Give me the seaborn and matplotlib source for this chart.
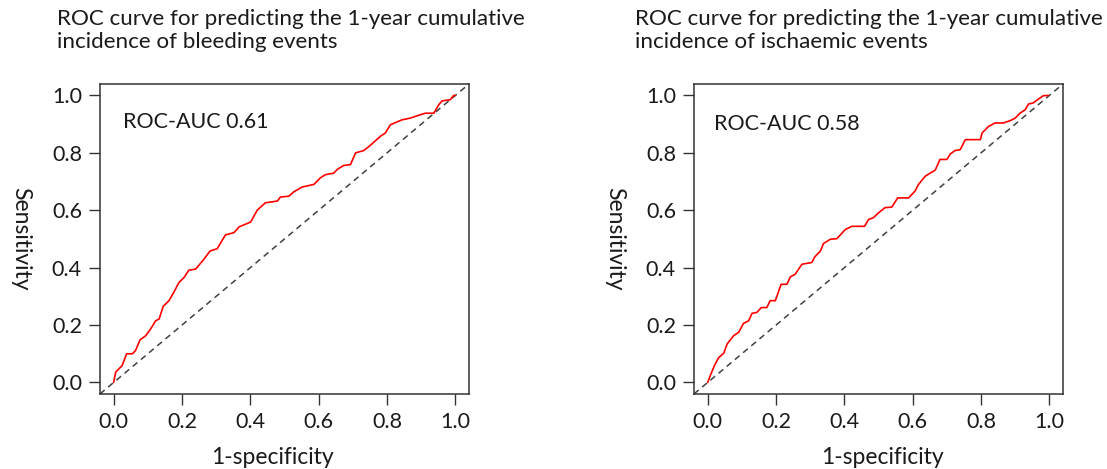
import seaborn as sns
import matplotlib.pyplot as plt
import pandas as pd

# ROC points (1-specificity, sensitivity)
bleed_fpr = [0.0, 0.006, 0.025, 0.038, 0.055, 0.064, 0.077, 0.094, 0.108, 0.123, 0.133, 0.145,
             0.162, 0.176, 0.191, 0.206, 0.220, 0.240, 0.264, 0.282, 0.303, 0.327, 0.352, 0.367,
             0.401, 0.420, 0.444, 0.479, 0.488, 0.513, 0.527, 0.552, 0.586, 0.605, 0.620, 0.644,
             0.654, 0.673, 0.693, 0.708, 0.732, 0.751, 0.781, 0.795, 0.810, 0.844, 0.868, 0.898,
             0.912, 0.937, 0.951, 0.961, 0.985, 0.995, 1.0]
bleed_tpr = [0.0, 0.036, 0.059, 0.100, 0.100, 0.111, 0.148, 0.163, 0.186, 0.215, 0.221, 0.265,
             0.285, 0.314, 0.348, 0.366, 0.391, 0.395, 0.429, 0.458, 0.466, 0.514, 0.522, 0.542,
             0.559, 0.600, 0.626, 0.632, 0.646, 0.649, 0.664, 0.681, 0.690, 0.713, 0.724, 0.729,
             0.742, 0.756, 0.759, 0.800, 0.808, 0.826, 0.858, 0.869, 0.898, 0.915, 0.921, 0.933,
             0.938, 0.938, 0.967, 0.981, 0.985, 1.0, 1.0]

isch_fpr = [0.0, 0.008, 0.020, 0.032, 0.047, 0.057, 0.076, 0.091, 0.105, 0.120, 0.130, 0.144,
            0.157, 0.173, 0.183, 0.198, 0.215, 0.232, 0.242, 0.256, 0.276, 0.305, 0.313, 0.330,
            0.339, 0.359, 0.378, 0.403, 0.422, 0.459, 0.471, 0.485, 0.500, 0.519, 0.539, 0.556,
            0.588, 0.607, 0.617, 0.637, 0.666, 0.680, 0.700, 0.710, 0.724, 0.739, 0.754, 0.798,
            0.803, 0.822, 0.841, 0.865, 0.885, 0.900, 0.914, 0.929, 0.939, 0.953, 0.963, 0.982,
            0.997]
isch_tpr = [0.0, 0.025, 0.059, 0.086, 0.102, 0.134, 0.163, 0.175, 0.206, 0.215, 0.241, 0.244,
            0.261, 0.261, 0.285, 0.285, 0.342, 0.342, 0.368, 0.377, 0.412, 0.418, 0.437, 0.458,
            0.484, 0.499, 0.501, 0.533, 0.544, 0.544, 0.568, 0.574, 0.591, 0.609, 0.611, 0.643,
            0.643, 0.667, 0.690, 0.719, 0.740, 0.777, 0.777, 0.796, 0.808, 0.811, 0.846, 0.846,
            0.869, 0.892, 0.904, 0.904, 0.912, 0.921, 0.938, 0.950, 0.970, 0.974, 0.983, 0.999,
            1.0]

titles = ["ROC curve for predicting the 1-year cumulative\nincidence of bleeding events",
          "ROC curve for predicting the 1-year cumulative\nincidence of ischaemic events"]
auc_labels = ["ROC-AUC 0.61", "ROC-AUC 0.58"]
ticks = [0.0, 0.2, 0.4, 0.6, 0.8, 1.0]
tick_labels = ["0.0", "0.2", "0.4", "0.6", "0.8", "1.0"]

sns.set_style("white")
plt.rcParams['font.family'] = ['Lato', 'DejaVu Sans']

fig = plt.figure(figsize=(11.07, 4.69), dpi=100)
lefts = [0.0903, 0.6269]
title_x = [0.0515, 0.5736]
auc_pos = [(0.026, 0.906), (0.02, 0.899)]
xlab_x = [0.468, 0.51]
panels = [(bleed_fpr, bleed_tpr), (isch_fpr, isch_tpr)]
ink = '#1a1a1a'

for i, (fpr, tpr) in enumerate(panels):
    ax = fig.add_axes([lefts[i], 0.160, 0.3334, 0.661])
    df = pd.DataFrame({'fpr': fpr, 'tpr': tpr})
    ax.axline((0, 0), (1, 1), color='#404040', lw=1.1, ls=(0, (4, 3)))
    sns.lineplot(data=df, x='fpr', y='tpr', sort=False, estimator=None,
                 color='#ff0000', lw=1.2, ax=ax)
    ax.set_xlim(-0.04, 1.04)
    ax.set_ylim(-0.04, 1.04)
    ax.set_xticks(ticks)
    ax.set_xticklabels(tick_labels)
    ax.set_yticks(ticks)
    ax.set_yticklabels(tick_labels)
    ax.tick_params(direction='out', length=8, width=1, color='#333333',
                   labelsize=15.5, pad=5, labelcolor=ink,
                   bottom=True, left=True)
    for s in ax.spines.values():
        s.set_color('#333333')
        s.set_linewidth(1.1)
    ax.set_xlabel("1-specificity", fontsize=16.5, color=ink, va='center')
    ax.xaxis.set_label_coords(xlab_x[i], -0.206)
    ax.set_ylabel("Sensitivity", fontsize=16.5, color=ink, rotation=270,
                  va='center', ha='center')
    ax.yaxis.set_label_coords(-0.216, 0.5)
    ax.text(auc_pos[i][0], auc_pos[i][1], auc_labels[i], fontsize=15.5, color=ink,
            ha='left', va='center', transform=ax.transData)
    fig.text(title_x[i], 0.981, titles[i], fontsize=16.1, color=ink,
             ha='left', va='top', linespacing=1.22)

fig.savefig('out.png', dpi=100)
